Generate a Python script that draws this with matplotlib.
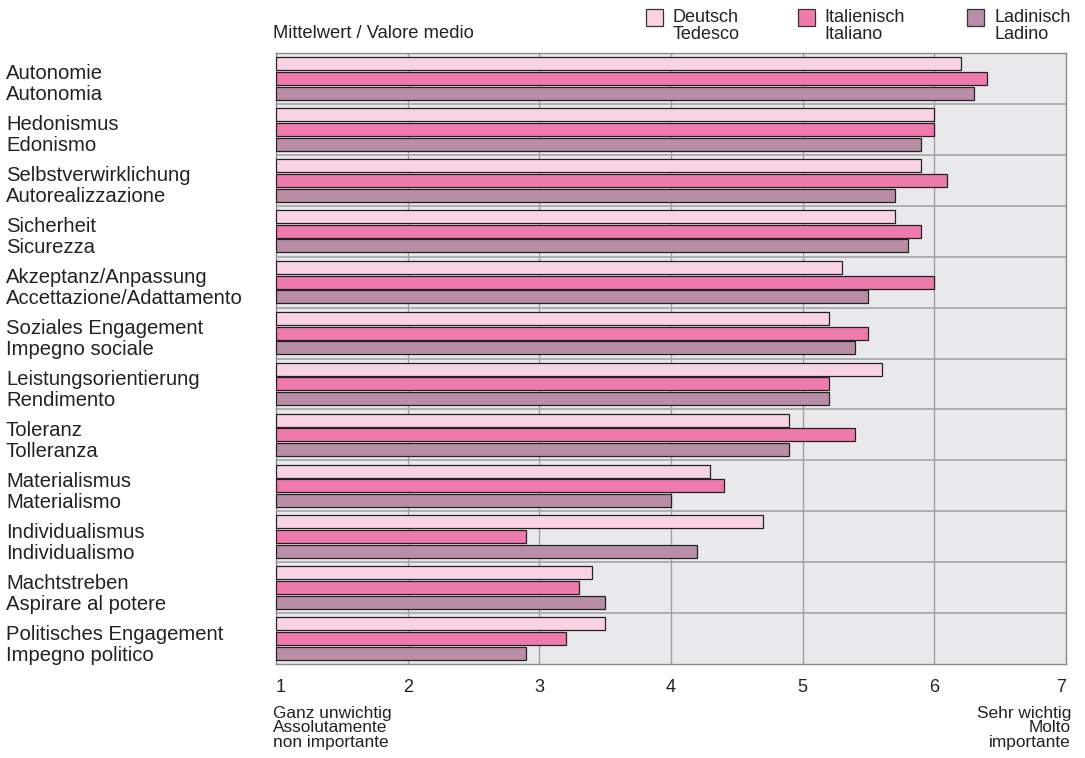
import matplotlib
matplotlib.use("Agg")
import matplotlib.pyplot as plt
import matplotlib.transforms as mtrans
import numpy as np
from matplotlib.patches import Rectangle

plt.rcParams['font.family'] = ['Liberation Sans', 'DejaVu Sans']

categories = [
    "Autonomie\nAutonomia",
    "Hedonismus\nEdonismo",
    "Selbstverwirklichung\nAutorealizzazione",
    "Sicherheit\nSicurezza",
    "Akzeptanz/Anpassung\nAccettazione/Adattamento",
    "Soziales Engagement\nImpegno sociale",
    "Leistungsorientierung\nRendimento",
    "Toleranz\nTolleranza",
    "Materialismus\nMaterialismo",
    "Individualismus\nIndividualismo",
    "Machtstreben\nAspirare al potere",
    "Politisches Engagement\nImpegno politico",
]
deutsch = [6.2, 6.0, 5.9, 5.7, 5.3, 5.2, 5.6, 4.9, 4.3, 4.7, 3.4, 3.5]
italienisch = [6.4, 6.0, 6.1, 5.9, 6.0, 5.5, 5.2, 5.4, 4.4, 2.9, 3.3, 3.2]
ladinisch = [6.3, 5.9, 5.7, 5.8, 5.5, 5.4, 5.2, 4.9, 4.0, 4.2, 3.5, 2.9]
series_labels = ["Deutsch\nTedesco", "Italienisch\nItaliano", "Ladinisch\nLadino"]
colors = ["#f9d3e4", "#ef7aae", "#b98ea6"]
xticks = [1, 2, 3, 4, 5, 6, 7]

W, H = 1085, 758
fig = plt.figure(figsize=(W / 100, H / 100), dpi=100)
ax = fig.add_axes([276 / W, 1 - 664 / H, 790 / W, 611 / H])
ax.set_facecolor("#e9e9eb")

y = np.arange(len(categories))
h = 0.256
offs = [-0.29, 0.0, 0.29]
for vals, off, c in zip([deutsch, italienisch, ladinisch], offs, colors):
    ax.barh(y + off, np.array(vals) - 1, left=1, height=h, color=c,
            edgecolor="#222222", linewidth=0.9, zorder=3)

ax.set_xlim(1, 7)
ax.set_ylim(len(categories) - 0.5, -0.5)
for xv in xticks[1:-1]:
    ax.axvline(xv, color="#a0a0a0", lw=1.0, zorder=1)
for b in np.arange(0.5, len(categories) - 0.5, 1):
    ax.axhline(b, color="#a4a4a4", lw=1.2, zorder=1)

for s in ax.spines.values():
    s.set_color("#8a8a8a")
    s.set_linewidth(1.0)

ax.set_yticks([])
ax.set_xticks(xticks)
ax.set_xticklabels([str(t) for t in xticks], fontsize=13)
ax.tick_params(axis='x', length=0, pad=11, colors="#222222")
ax.get_xticklabels()[0].set_ha("left")
ax.get_xticklabels()[-1].set_ha("right")

# category labels, placed at the left edge of the figure
shift = mtrans.ScaledTranslation(-(276 - 6) / 100, -6 / 100, fig.dpi_scale_trans)
for i, cat in enumerate(categories):
    ax.text(0, i, cat, transform=ax.get_yaxis_transform() + shift,
            fontsize=14.6, ha="left", va="center", color="#222222",
            linespacing=1.13)

fig.text(273 / W, 1 - 33 / H, "Mittelwert / Valore medio", fontsize=13.2,
         ha="left", va="center", color="#222222")

fig.text(273 / W, 1 - 728 / H, "Ganz unwichtig\nAssolutamente\nnon importante",
         fontsize=12.4, ha="left", va="center", color="#222222", linespacing=0.92)
fig.text(1071 / W, 1 - 728 / H, "Sehr wichtig\nMolto\nimportante",
         fontsize=12.4, ha="right", va="center", color="#222222", linespacing=0.92,
         multialignment="right")

# legend
sq_x = [646, 798, 967]
tx_x = [673, 824, 995]
for x0, t0, c, lab in zip(sq_x, tx_x, colors, series_labels):
    fig.patches.append(Rectangle((x0 / W, 1 - 26 / H), 17 / W, 17 / H,
                                 transform=fig.transFigure, facecolor=c,
                                 edgecolor="#333333", linewidth=0.9))
    fig.text(t0 / W, 1 - 26 / H, lab, fontsize=13, ha="left", va="center",
             color="#222222", linespacing=1.0)

fig.savefig("out.png", dpi=100)
